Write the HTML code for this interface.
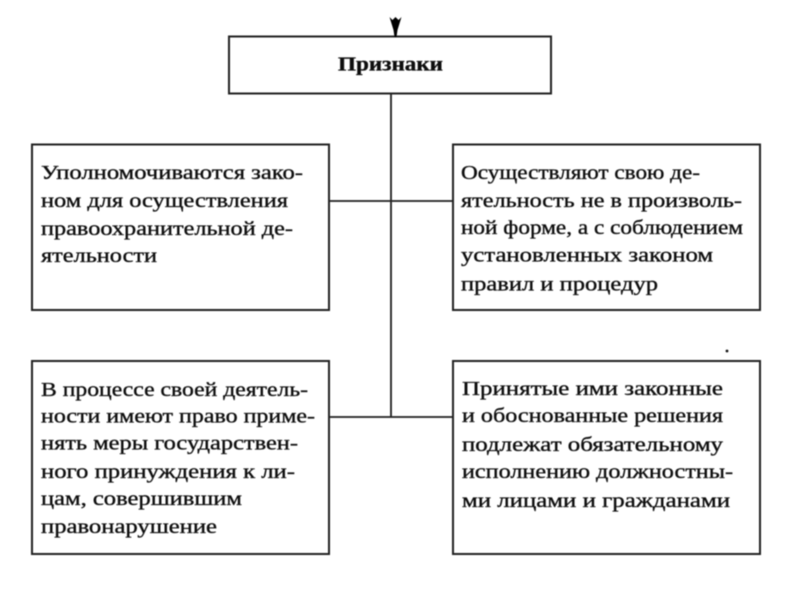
<!DOCTYPE html>
<html lang="ru"><head><meta charset="utf-8"><title>Признаки</title>
<style>
html,body{margin:0;padding:0;background:#fff}
svg{display:block}
text{font-family:"Liberation Serif","DejaVu Serif",serif;font-size:19.5px;fill:#111;stroke:#111;stroke-width:.35px}
</style></head><body>
<svg width="800" height="600" viewBox="0 0 800 600" xmlns="http://www.w3.org/2000/svg">
<defs><filter id="b" x="-2%" y="-2%" width="104%" height="104%"><feGaussianBlur stdDeviation="0.45"/></filter></defs>
<rect width="800" height="600" fill="#fff"/>
<g filter="url(#b)">
<g fill="none" stroke="#222" stroke-width="2">
<rect x="229" y="36.5" width="322" height="57"/>
<rect x="32" y="144.5" width="297" height="165.500"/>
<rect x="453" y="144.5" width="307" height="165.500"/>
<rect x="32" y="361" width="297" height="193"/>
<rect x="453" y="361" width="307" height="193"/>
<path d="M391 93V417M329 201H453M329 417H453" stroke-width="1.800"/>
</g>
<path d="M389.500 17L392.500 20L395.500 17L398.500 20L401.500 17L397.500 30L396.500 37H394.500L393.500 30Z" fill="#000"/>
<circle cx="727" cy="351" r="1.400" fill="#111"/>
<text x="338" y="70.500" textLength="105" lengthAdjust="spacingAndGlyphs" style="font-weight:bold">Признаки</text>
<text x="41" y="179" textLength="262" lengthAdjust="spacingAndGlyphs">Уполномочиваются зако-</text>
<text x="41" y="207" textLength="247" lengthAdjust="spacingAndGlyphs">ном для осуществления</text>
<text x="41" y="235" textLength="252" lengthAdjust="spacingAndGlyphs">правоохранительной де-</text>
<text x="41" y="262" textLength="116" lengthAdjust="spacingAndGlyphs">ятельности</text>
<text x="461" y="179" textLength="239" lengthAdjust="spacingAndGlyphs">Осуществляют свою де-</text>
<text x="461" y="207" textLength="281" lengthAdjust="spacingAndGlyphs">ятельность не в произволь-</text>
<text x="461" y="234" textLength="282" lengthAdjust="spacingAndGlyphs">ной форме, а с соблюдением</text>
<text x="461" y="261.500" textLength="252" lengthAdjust="spacingAndGlyphs">установленных законом</text>
<text x="461" y="290.500" textLength="197" lengthAdjust="spacingAndGlyphs">правил и процедур</text>
<text x="41" y="396" textLength="267" lengthAdjust="spacingAndGlyphs">В процессе своей деятель-</text>
<text x="41" y="422.500" textLength="274" lengthAdjust="spacingAndGlyphs">ности имеют право приме-</text>
<text x="41" y="449.500" textLength="257" lengthAdjust="spacingAndGlyphs">нять меры государствен-</text>
<text x="41" y="478" textLength="254" lengthAdjust="spacingAndGlyphs">ного принуждения к ли-</text>
<text x="41" y="505" textLength="201" lengthAdjust="spacingAndGlyphs">цам, совершившим</text>
<text x="41" y="533" textLength="176" lengthAdjust="spacingAndGlyphs">правонарушение</text>
<text x="462" y="395" textLength="261" lengthAdjust="spacingAndGlyphs">Принятые ими законные</text>
<text x="462" y="422" textLength="261" lengthAdjust="spacingAndGlyphs">и обоснованные решения</text>
<text x="462" y="451" textLength="261" lengthAdjust="spacingAndGlyphs">подлежат обязательному</text>
<text x="462" y="478" textLength="271" lengthAdjust="spacingAndGlyphs">исполнению должностны-</text>
<text x="462" y="507" textLength="268" lengthAdjust="spacingAndGlyphs">ми лицами и гражданами</text>
</g>
</svg>
</body></html>
